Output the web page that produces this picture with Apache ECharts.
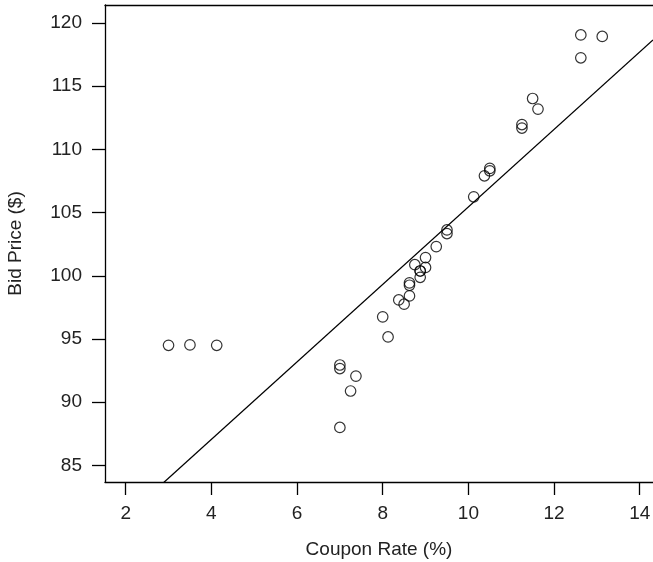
<!DOCTYPE html>
<html><head><meta charset="utf-8">
<script src="https://cdn.jsdelivr.net/npm/echarts@6/dist/echarts.min.js"></script>
<style>html,body{margin:0;padding:0;background:#fff}#c{width:653px;height:562px}</style>
</head><body><div id="c"></div>
<script>
const couponRate = [7.000, 9.000, 7.000, 4.125, 13.125, 8.000, 8.750, 12.625, 9.500, 10.125, 11.625, 8.625, 3.000, 10.500, 11.250, 8.375, 10.375, 11.250, 12.625, 8.875, 10.500, 8.625, 9.500, 11.500, 8.875, 7.375, 7.250, 8.625, 8.500, 8.875, 8.125, 9.000, 9.250, 7.000, 3.500];
const bidPrice = [92.94, 101.44, 92.66, 94.50, 118.94, 96.75, 100.88, 117.25, 103.34, 106.25, 113.19, 99.44, 94.50, 108.31, 111.69, 98.09, 107.91, 111.97, 119.06, 100.38, 108.50, 99.25, 103.63, 114.03, 100.38, 92.06, 90.88, 98.41, 97.75, 99.88, 95.16, 100.66, 102.31, 88.00, 94.53];
const xTicks = [2, 4, 6, 8, 10, 12, 14];
const yTicks = [85, 90, 95, 100, 105, 110, 115, 120];

const xMin = 1.517, xMax = 14.31, yMin = 83.68, yMax = 121.43;

// least squares fit
const n = couponRate.length;
const mx = couponRate.reduce((a, b) => a + b, 0) / n;
const my = bidPrice.reduce((a, b) => a + b, 0) / n;
let sxy = 0, sxx = 0;
for (let i = 0; i < n; i++) { sxy += (couponRate[i] - mx) * (bidPrice[i] - my); sxx += (couponRate[i] - mx) ** 2; }
const b1 = sxy / sxx, b0 = my - b1 * mx;
const fitLine = [[xMin, b0 + b1 * xMin], [xMax, b0 + b1 * xMax]];

const font = 'Liberation Sans, Arial, Helvetica, sans-serif';
const axLine = {show: true, onZero: false, lineStyle: {color: '#000', width: 1.3}};
const chart = echarts.init(document.getElementById('c'), null, {renderer: 'canvas'});
chart.setOption({
  animation: false,
  grid: {left: 105, top: 5, right: 0, bottom: 80, containLabel: false, outerBoundsMode: 'none'},
  xAxis: [{
    type: 'value', min: xMin, max: xMax, position: 'bottom',
    name: 'Coupon Rate (%)', nameLocation: 'middle', nameGap: 58,
    nameTextStyle: {fontFamily: font, fontSize: 19, color: '#222'},
    axisLine: axLine,
    axisTick: {show: true, length: 13, lineStyle: {color: '#000', width: 1.3}, customValues: xTicks},
    axisLabel: {fontFamily: font, fontSize: 19, color: '#222', margin: 22, customValues: xTicks},
    splitLine: {show: false}
  }, {
    type: 'value', min: xMin, max: xMax, position: 'top',
    axisLine: axLine, axisTick: {show: false}, axisLabel: {show: false}, splitLine: {show: false}
  }],
  yAxis: {
    type: 'value', min: yMin, max: yMax,
    name: 'Bid Price ($)', nameLocation: 'middle', nameGap: 80, nameRotate: 90,
    nameTextStyle: {fontFamily: font, fontSize: 19, color: '#222'},
    axisLine: axLine,
    axisTick: {show: true, length: 13, lineStyle: {color: '#000', width: 1.3}, customValues: yTicks},
    axisLabel: {fontFamily: font, fontSize: 19, color: '#222', margin: 23, customValues: yTicks},
    splitLine: {show: false}
  },
  series: [
    {
      type: 'line', data: fitLine, showSymbol: false, symbol: 'none', clip: true,
      lineStyle: {color: '#000', width: 1.3}, silent: true
    },
    {
      type: 'scatter', data: couponRate.map((x, i) => [x, bidPrice[i]]),
      symbol: 'circle', symbolSize: 10.5,
      itemStyle: {color: 'rgba(0,0,0,0)', borderColor: '#000', borderWidth: 1.2}
    }
  ]
});
</script></body></html>
